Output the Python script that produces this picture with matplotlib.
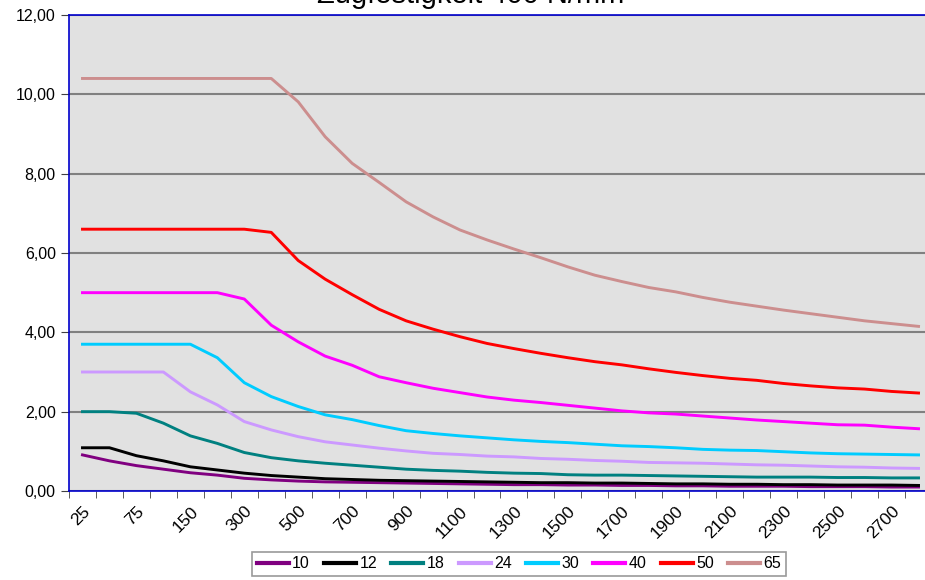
import numpy as np
import matplotlib
matplotlib.use("Agg")
import matplotlib.pyplot as plt
from matplotlib.ticker import FuncFormatter, FixedLocator

plt.rcParams['font.family'] = ['Liberation Sans', 'DejaVu Sans']

# x categories
laengen = [25, 50, 75, 100, 150, 200] + list(range(300, 2900, 100))

# one series per diameter
s10 = [0.91, 0.76, 0.64, 0.55, 0.46, 0.40, 0.32, 0.28, 0.25, 0.23, 0.22,
       0.21, 0.20, 0.19, 0.18, 0.17, 0.16, 0.16, 0.15, 0.15, 0.14, 0.14,
       0.13, 0.13, 0.12, 0.12, 0.12, 0.11, 0.11, 0.11, 0.10, 0.10]
s12 = [1.09, 1.09, 0.89, 0.76, 0.61, 0.53, 0.45, 0.39, 0.35, 0.31, 0.29,
       0.27, 0.26, 0.25, 0.24, 0.23, 0.22, 0.21, 0.21, 0.20, 0.20, 0.19,
       0.18, 0.18, 0.17, 0.17, 0.16, 0.16, 0.15, 0.15, 0.15, 0.14]
s18 = [2.00, 2.00, 1.96, 1.71, 1.39, 1.20, 0.97, 0.84, 0.76, 0.70, 0.65,
       0.60, 0.55, 0.52, 0.50, 0.47, 0.45, 0.44, 0.41, 0.40, 0.40, 0.39,
       0.38, 0.37, 0.36, 0.35, 0.35, 0.35, 0.34, 0.34, 0.33, 0.33]
s24 = [3.00, 3.00, 3.00, 3.00, 2.50, 2.17, 1.75, 1.54, 1.37, 1.24, 1.16,
       1.08, 1.01, 0.95, 0.92, 0.88, 0.86, 0.82, 0.80, 0.77, 0.75, 0.72,
       0.71, 0.70, 0.68, 0.66, 0.65, 0.63, 0.61, 0.60, 0.58, 0.57]
s30 = [3.70, 3.70, 3.70, 3.70, 3.70, 3.36, 2.73, 2.38, 2.13, 1.92, 1.80,
       1.65, 1.52, 1.45, 1.39, 1.34, 1.29, 1.25, 1.22, 1.18, 1.14, 1.12,
       1.09, 1.05, 1.03, 1.02, 0.99, 0.96, 0.94, 0.93, 0.92, 0.91]
s40 = [5.00, 5.00, 5.00, 5.00, 5.00, 5.00, 4.84, 4.18, 3.76, 3.40, 3.17,
       2.88, 2.73, 2.59, 2.48, 2.37, 2.29, 2.23, 2.16, 2.09, 2.02, 1.97,
       1.94, 1.89, 1.84, 1.79, 1.75, 1.71, 1.67, 1.66, 1.61, 1.57]
s50 = [6.60, 6.60, 6.60, 6.60, 6.60, 6.60, 6.60, 6.52, 5.81, 5.34, 4.95,
       4.58, 4.29, 4.08, 3.89, 3.72, 3.59, 3.47, 3.36, 3.26, 3.18, 3.08,
       2.99, 2.91, 2.84, 2.79, 2.71, 2.65, 2.60, 2.57, 2.51, 2.47]
s65 = [10.40, 10.40, 10.40, 10.40, 10.40, 10.40, 10.40, 10.40, 9.81, 8.93, 8.26,
       7.78, 7.29, 6.91, 6.58, 6.33, 6.10, 5.88, 5.65, 5.44, 5.28, 5.13,
       5.02, 4.88, 4.76, 4.66, 4.56, 4.47, 4.38, 4.29, 4.22, 4.15]

namen = ['10', '12', '18', '24', '30', '40', '50', '65']
farben = ['#800080', '#000000', '#008080', '#CC99FF', '#00CCFF', '#FF00FF', '#FF0000', '#CC8E8E']
reihen = [s10, s12, s18, s24, s30, s40, s50, s65]

fig = plt.figure(figsize=(9.25, 5.8), dpi=100)
# plot area runs a bit past the right edge like in the original screenshot
ax = fig.add_axes([69/925, 89/580, 863/925, 476/580])
ax.set_facecolor('#E1E1E1')

x = np.arange(len(laengen))
for werte, name, farbe in zip(reihen, namen, farben):
    ax.plot(x, werte, color=farbe, lw=2.1, label=name, solid_joinstyle='round')

ax.set_xlim(-0.5, len(laengen) - 0.5)
ax.set_ylim(0, 12)
ax.set_yticks(np.arange(0, 13, 2))
ax.yaxis.set_major_formatter(FuncFormatter(lambda v, p: f'{v:.2f}'.replace('.', ',')))
ax.grid(axis='y', color='#808080', lw=1.5)
ax.set_axisbelow(True)

ax.xaxis.set_major_locator(FixedLocator(x[::2]))
ax.set_xticklabels([str(l) for l in laengen[::2]], rotation=45, ha='right',
                   rotation_mode='anchor', fontsize=12.5)
ax.xaxis.set_minor_locator(FixedLocator(np.arange(-0.5, len(laengen), 1)))
ax.tick_params(axis='x', which='major', length=0, pad=9)
ax.tick_params(axis='x', which='minor', length=5, direction='out', color='#404040')
ax.tick_params(axis='y', length=6, direction='out', labelsize=11.5, color='#404040')

for s in ['left', 'top', 'bottom']:
    ax.spines[s].set_color('#0000CC')
    ax.spines[s].set_linewidth(1.2)
ax.spines['right'].set_visible(False)

# title is cut off at the top in the original as well
fig.text(317/925, 1 - 3/580, 'Zugfestigkeit 400 N/mm²', fontsize=21,
         ha='left', va='baseline')

leg = fig.legend(loc='center', bbox_to_anchor=(519/925, 1 - 564/580), ncol=8,
                 fontsize=11.5, handlelength=2.0, handletextpad=0.2, columnspacing=0.9,
                 frameon=True, fancybox=False, borderpad=0.3)
leg.get_frame().set_edgecolor('#808080')
leg.get_frame().set_linewidth(1.2)
for line in leg.get_lines():
    line.set_linewidth(3)

fig.savefig('out.png', dpi=100)
